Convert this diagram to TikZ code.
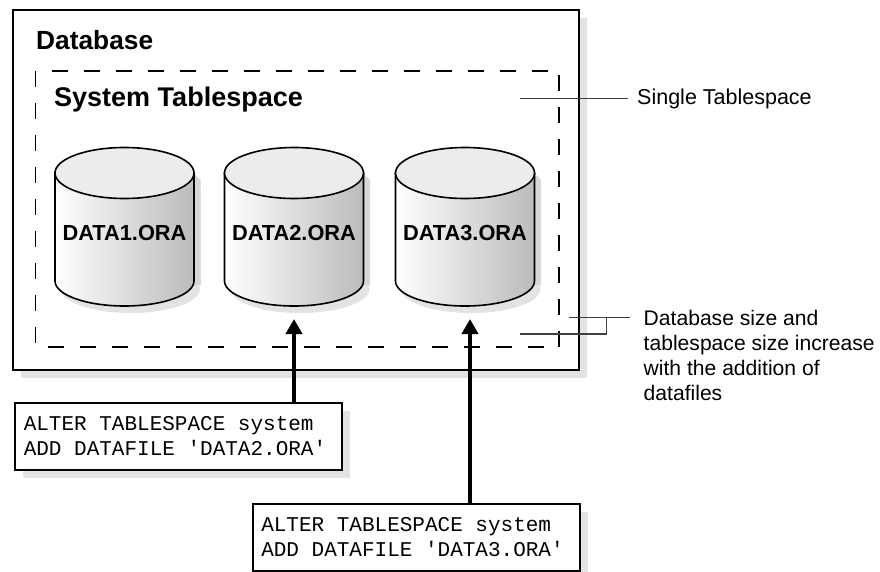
\documentclass[tikz,border=0pt]{standalone}
\usepackage{fontspec}
\setmainfont{Liberation Sans}
\setmonofont{Liberation Mono}
\usetikzlibrary{arrows.meta,shadows}
\definecolor{softgray}{HTML}{E3E3E3}
\definecolor{capgray}{HTML}{ECECEC}
\definecolor{bodygray}{HTML}{BBBBBB}
\definecolor{leadergray}{HTML}{404040}
\tikzset{
  frame/.style={draw,line width=2pt,fill=white,drop shadow={shadow xshift=8pt,shadow yshift=-8pt,fill=softgray,opacity=1}},
  title/.style={font=\fontsize{26.3}{30}\selectfont\bfseries,anchor=west,inner sep=0pt},
  dashline/.style={line width=1.6pt,dash pattern=on 16pt off 16pt},
  cylbody/.style={draw,line width=1.6pt,left color=white,right color=bodygray},
  cylcap/.style={draw,line width=1.6pt,fill=capgray},
  cylname/.style={font=\fontsize{21.8}{25}\selectfont\bfseries,inner sep=0pt},
  sql/.style={frame,anchor=north west,minimum width=327pt,minimum height=67pt,align=left,inner sep=0pt,font=\fontsize{21}{25}\ttfamily},
  addarrow/.style={line width=4pt,-{Triangle[length=15pt,width=16pt]}},
  leader/.style={leadergray,line width=1.1pt},
  note/.style={font=\fontsize{21.5}{25}\selectfont,align=left,anchor=west,inner sep=0pt}
}
\begin{document}
\begin{tikzpicture}[x=1pt,y=-1pt]
\clip (0,0) rectangle (880,571);
\node[frame,minimum width=565.5pt,minimum height=360pt] (database) at (296.2,190) {};
\node[title] (databasename) at (36,40) {Database};
% dashed tablespace outline
\coordinate (nw) at (35.5,71);
\coordinate (ne) at (559,71);
\coordinate (sw) at (35.5,347);
\coordinate (se) at (559,347);
\draw[dashline] (nw) -- (sw);
\draw[dashline,dash phase=16pt] (nw) -- (ne);
\draw[dashline,dash phase=28pt] (ne) -- (se);
\draw[dashline,dash phase=20pt] (sw) -- (se);
\node[title,font=\fontsize{27}{30}\selectfont\bfseries] (systemname) at (54,100) {System Tablespace};
% datafiles
\foreach \x/\i in {124.5/1,294/2,465/3} {
  \fill[softgray] (\x-64,190) rectangle (\x+76,285);
  \fill[softgray] (\x+6,289) ellipse (69.5 and 24);
  \fill[softgray!70!bodygray] (\x+69,173) -- (\x+76,180) -- (\x+76,285) -- (\x+69,285) -- cycle;
  \draw[cylbody] (\x-69.5,173) -- (\x-69.5,281) arc[start angle=180,end angle=0,x radius=69.5,y radius=25] -- (\x+69.5,173) -- cycle;
  \draw[cylcap] (\x,173) ellipse (69.5 and 25.5);
  \node[cylname] (data\i) at (\x,233) {DATA\i.ORA};
}
% statements
\node[sql] (alter2) at (14,402) {ALTER TABLESPACE system\\ADD DATAFILE 'DATA2.ORA'\hspace*{7pt}};
\node[sql] (alter3) at (251.5,502.5) {ALTER TABLESPACE system\\ADD DATAFILE 'DATA3.ORA'\hspace*{7pt}};
\coordinate (tip2) at (294,319);
\coordinate (tip3) at (470,319);
\draw[addarrow] (alter2.north -| tip2) -- (tip2);
\draw[addarrow] (alter3.north -| tip3) -- (tip3);
% notes on the right
\node[note] (single) at (637,99) {Single Tablespace};
\node[note,font=\fontsize{21.1}{25}\selectfont] (sizenote) at (643.5,355) {Database size and\\tablespace size increase\\with the addition of\\datafiles};
\coordinate (singlestart) at (520,98.7);
\coordinate (singleend) at (627.7,98.7);
\coordinate (sizeend) at (630,317.7);
\coordinate (sizeupper) at (569.3,317.7);
\coordinate (sizelower) at (520,334);
\coordinate (sizejoin) at (606.7,317.7);
\draw[leader] (singlestart) -- (singleend);
\draw[leader] (sizeupper) -- (sizeend);
\draw[leader] (sizelower) -| (sizejoin);
\end{tikzpicture}
\end{document}
